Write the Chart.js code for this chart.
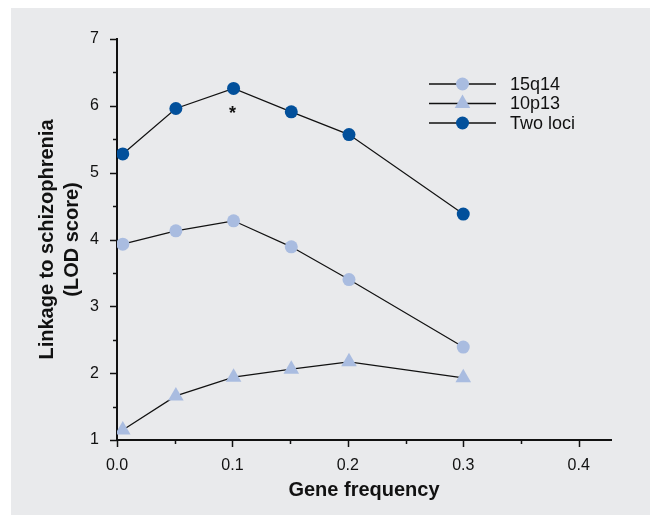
<!DOCTYPE html>
<html>
<head>
<meta charset="utf-8">
<script src="https://cdn.jsdelivr.net/npm/chart.js@4.4.0/dist/chart.umd.min.js"></script>
<style>
  body { margin: 0; background: #fff; }
</style>
</head>
<body>
<canvas id="lodChart" width="650" height="515"></canvas>
<script>
// values
const geneFreq = [0.005, 0.051, 0.101, 0.151, 0.201, 0.3];
const lod15q14 = [3.93, 4.13, 4.28, 3.89, 3.40, 2.39];
const lod10p13 = [1.15, 1.66, 1.94, 2.06, 2.17, 1.93];
const lodTwoLoci = [5.28, 5.96, 6.26, 5.91, 5.57, 4.38];
const seriesNames = ["15q14", "10p13", "Two loci"];
const starMark = { x: 0.1, y: 5.93 };

const lightBlue = "#a9bce0";
const darkBlue = "#02509b";
const ink = "#111";
const font = "'Liberation Sans', Arial, sans-serif";

function pairs(ys) {
  return geneFreq.map((x, i) => ({ x: x, y: ys[i] }));
}

// grey panel behind the chart
const panelBg = {
  id: "panelBg",
  beforeDraw(chart) {
    const ctx = chart.ctx;
    ctx.save();
    ctx.fillStyle = "#e9eaec";
    ctx.fillRect(11, 8, chart.width - 11, chart.height - 8);
    ctx.restore();
  }
};

// major + minor tick marks, outside the axes
const tickMarks = {
  id: "tickMarks",
  afterDraw(chart) {
    const { ctx, scales: { x, y }, chartArea } = chart;
    ctx.save();
    ctx.strokeStyle = ink;
    ctx.lineWidth = 1.5;
    for (let i = 0; i <= 12; i++) {
      const py = Math.round(y.getPixelForValue(y.min + i * 0.5)) + 0.5;
      const len = i % 2 === 0 ? 7 : 4;
      ctx.beginPath();
      ctx.moveTo(chartArea.left, py);
      ctx.lineTo(chartArea.left - len, py);
      ctx.stroke();
    }
    for (let i = 0; i <= 8; i++) {
      const px = Math.round(x.getPixelForValue(i * 0.05)) + 0.5;
      const len = i % 2 === 0 ? 7 : 4;
      ctx.beginPath();
      ctx.moveTo(px, chartArea.bottom);
      ctx.lineTo(px, chartArea.bottom + len);
      ctx.stroke();
    }
    // significance star
    ctx.fillStyle = ink;
    ctx.font = "bold 18px " + font;
    ctx.textAlign = "center";
    ctx.textBaseline = "middle";
    ctx.fillText("*", x.getPixelForValue(starMark.x), y.getPixelForValue(starMark.y) + 4);
    ctx.restore();
  }
};

// legend: line with marker in the middle, label to the right
const lineLegend = {
  id: "lineLegend",
  afterDraw(chart) {
    const ctx = chart.ctx;
    const x0 = 429, x1 = 496, tx = 510, top = 84, step = 19.5;
    ctx.save();
    chart.data.datasets.forEach((ds, i) => {
      const cy = top + i * step;
      const cx = (x0 + x1) / 2;
      ctx.strokeStyle = ink;
      ctx.lineWidth = 1.3;
      ctx.beginPath();
      ctx.moveTo(x0, cy);
      ctx.lineTo(x1, cy);
      ctx.stroke();
      ctx.fillStyle = ds.backgroundColor;
      ctx.beginPath();
      if (ds.pointStyle === "triangle") {
        const r = ds.pointRadius;
        ctx.moveTo(cx, cy - r);
        ctx.lineTo(cx + r * 0.866, cy + r * 0.5);
        ctx.lineTo(cx - r * 0.866, cy + r * 0.5);
        ctx.closePath();
      } else {
        ctx.arc(cx, cy, ds.pointRadius, 0, Math.PI * 2);
      }
      ctx.fill();
      ctx.fillStyle = ink;
      ctx.font = "18px " + font;
      ctx.textAlign = "left";
      ctx.textBaseline = "middle";
      ctx.fillText(ds.label, tx, cy + 1);
    });
    ctx.restore();
  }
};

const lineStyle = { borderColor: ink, borderWidth: 1.2, pointBorderWidth: 0, tension: 0 };

new Chart(document.getElementById("lodChart"), {
  type: "line",
  data: {
    datasets: [
      Object.assign({ label: seriesNames[0], data: pairs(lod15q14), backgroundColor: lightBlue,
        pointBackgroundColor: lightBlue, pointStyle: "circle", pointRadius: 6.5 }, lineStyle),
      Object.assign({ label: seriesNames[1], data: pairs(lod10p13), backgroundColor: lightBlue,
        pointBackgroundColor: lightBlue, pointStyle: "triangle", pointRadius: 9 }, lineStyle),
      Object.assign({ label: seriesNames[2], data: pairs(lodTwoLoci), backgroundColor: darkBlue,
        pointBackgroundColor: darkBlue, pointStyle: "circle", pointRadius: 6.5 }, lineStyle)
    ]
  },
  options: {
    responsive: false,
    animation: false,
    layout: { padding: { top: 39, right: 39, left: 0, bottom: 0 } },
    plugins: { legend: { display: false }, tooltip: { enabled: false } },
    scales: {
      x: {
        type: "linear",
        min: 0,
        max: 0.428,
        grid: { display: false },
        border: { display: true, color: ink, width: 2 },
        ticks: {
          stepSize: 0.1,
          includeBounds: false,
          padding: 8,
          color: ink,
          font: { family: font, size: 16 },
          callback: (v) => v.toFixed(1)
        },
        title: {
          display: true,
          text: "Gene frequency",
          color: ink,
          font: { family: font, size: 20, weight: "bold", lineHeight: 1.2 },
          padding: { top: 0, bottom: 13 }
        },
        afterFit: (scale) => { scale.height = 75; }
      },
      y: {
        min: 1,
        max: 7,
        grid: { display: false },
        border: { display: true, color: ink, width: 2 },
        ticks: {
          stepSize: 1,
          padding: 10,
          color: ink,
          font: { family: font, size: 16 }
        },
        title: {
          display: true,
          text: ["Linkage to schizophrenia", "(LOD score)"],
          color: ink,
          font: { family: font, size: 20, weight: "bold", lineHeight: 1.25 },
          padding: { top: 35, bottom: 0 }
        },
        afterFit: (scale) => { scale.width = 117; }
      }
    }
  },
  plugins: [panelBg, tickMarks, lineLegend]
});
</script>
</body>
</html>
